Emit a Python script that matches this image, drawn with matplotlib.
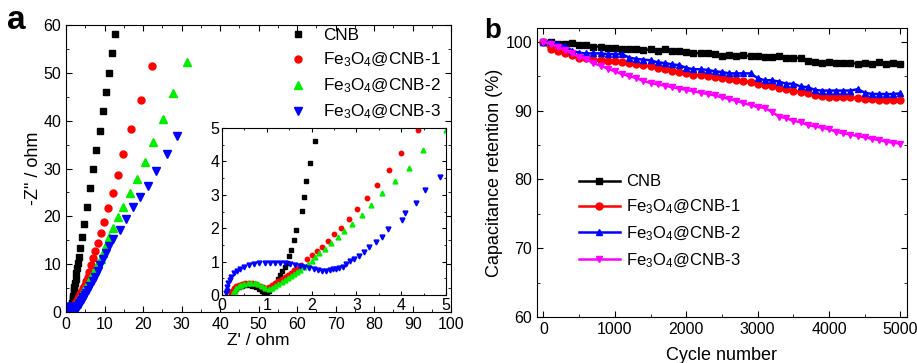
import numpy as np
import matplotlib
matplotlib.use('Agg')
import matplotlib.pyplot as plt
from matplotlib.ticker import MultipleLocator

plt.rcParams['font.family'] = ['Liberation Sans', 'DejaVu Sans']
plt.rcParams['mathtext.fontset'] = 'custom'
plt.rcParams['mathtext.rm'] = 'Liberation Sans'
plt.rcParams['mathtext.it'] = 'Liberation Sans:italic'
plt.rcParams['xtick.direction'] = 'in'
plt.rcParams['ytick.direction'] = 'in'

labels = ['CNB', 'Fe$_3$O$_4$@CNB-1', 'Fe$_3$O$_4$@CNB-2', 'Fe$_3$O$_4$@CNB-3']

# panel a: Nyquist data (Z' , -Z'')
cnb_re = [0.22, 0.26, 0.31, 0.37, 0.44, 0.52, 0.60, 0.68, 0.76, 0.83, 0.89, 0.93, 0.96, 1.00, 1.05,
          1.10, 1.15, 1.20, 1.25, 1.30, 1.35, 1.40, 1.45, 1.49, 1.53, 1.60, 1.66, 1.79, 1.84, 1.88,
          1.97, 2.08, 2.20, 2.35, 2.50, 2.68, 2.85, 3.05, 3.30, 3.60, 4.10, 4.60, 5.40, 6.10, 7.00,
          7.90, 8.70, 9.50, 10.40, 11.10, 11.90, 12.80]
cnb_im = [0.05, 0.13, 0.19, 0.24, 0.27, 0.29, 0.29, 0.27, 0.23, 0.17, 0.11, 0.07, 0.05, 0.08, 0.13,
          0.20, 0.28, 0.37, 0.48, 0.60, 0.73, 0.85, 0.97, 1.17, 1.36, 1.66, 1.94, 2.52, 2.94, 3.42,
          3.96, 4.61, 5.30, 6.10, 7.00, 8.10, 9.20, 10.30, 11.40, 13.40, 15.70, 18.50, 21.90, 25.90, 29.90,
          33.90, 37.90, 42.00, 46.00, 50.00, 54.10, 58.10]

fe1_re = [0.20, 0.23, 0.27, 0.32, 0.38, 0.45, 0.52, 0.60, 0.68, 0.76, 0.84, 0.91, 0.98, 1.05, 1.12,
          1.19, 1.26, 1.33, 1.40, 1.47, 1.54, 1.61, 1.68, 1.76, 1.89, 2.00, 2.12, 2.24, 2.36, 2.50,
          2.65, 2.84, 3.02, 3.23, 3.47, 3.73, 4.00, 4.38, 4.80, 5.20, 5.65, 6.05, 6.50, 7.00, 7.60,
          8.25, 9.00, 9.85, 10.90, 12.10, 13.40, 14.90, 17.00, 19.40, 22.30]
fe1_im = [0.05, 0.13, 0.20, 0.26, 0.31, 0.34, 0.36, 0.36, 0.35, 0.32, 0.28, 0.24, 0.22, 0.24, 0.29,
          0.35, 0.41, 0.47, 0.53, 0.60, 0.67, 0.74, 0.81, 0.90, 1.08, 1.19, 1.31, 1.44, 1.62, 1.82,
          2.02, 2.27, 2.56, 2.89, 3.29, 3.73, 4.26, 4.93, 5.60, 6.40, 7.30, 8.40, 9.80, 11.20, 12.70,
          14.40, 16.50, 18.80, 21.80, 24.80, 28.70, 33.00, 38.30, 44.40, 51.40]

fe2_re = [0.25, 0.28, 0.32, 0.37, 0.43, 0.50, 0.57, 0.65, 0.73, 0.81, 0.89, 0.97, 1.05, 1.12, 1.19,
          1.26, 1.33, 1.40, 1.47, 1.54, 1.61, 1.68, 1.75, 1.83, 1.92, 2.00, 2.08, 2.17, 2.30, 2.44,
          2.58, 2.73, 2.90, 3.12, 3.33, 3.58, 3.86, 4.18, 4.49, 4.99, 5.45, 5.95, 6.50, 7.05, 7.70,
          8.30, 9.00, 9.55, 10.30, 11.20, 12.10, 13.40, 14.90, 16.60, 18.30, 20.40, 22.70, 25.10, 27.90, 31.30]
fe2_im = [0.05, 0.13, 0.20, 0.26, 0.31, 0.34, 0.36, 0.36, 0.35, 0.32, 0.27, 0.21, 0.18, 0.22, 0.27,
          0.32, 0.38, 0.44, 0.50, 0.56, 0.62, 0.68, 0.75, 0.83, 0.93, 1.03, 1.15, 1.26, 1.39, 1.56,
          1.74, 1.93, 2.14, 2.41, 2.69, 3.04, 3.42, 3.81, 4.33, 4.93, 5.60, 6.40, 7.30, 8.20, 9.30,
          10.20, 11.10, 12.30, 14.00, 15.70, 17.50, 19.90, 22.00, 24.80, 27.80, 31.30, 35.50, 40.40, 45.80, 52.30]

fe3_re = [0.10, 0.11, 0.12, 0.14, 0.17, 0.21, 0.26, 0.33, 0.41, 0.50, 0.60, 0.71, 0.83, 0.95, 1.07,
          1.18, 1.29, 1.40, 1.51, 1.62, 1.73, 1.84, 1.95, 2.05, 2.15, 2.24, 2.33, 2.41, 2.48, 2.55,
          2.62, 2.69, 2.77, 2.86, 2.95, 3.06, 3.16, 3.28, 3.43, 3.56, 3.71, 4.01, 4.09, 4.33, 4.52,
          4.87, 5.30, 5.80, 6.30, 6.90, 7.50, 8.20, 8.90, 9.60, 10.40, 11.20, 12.30, 13.90, 15.50, 17.30,
          19.20, 21.30, 23.40, 26.10, 28.80]
fe3_im = [0.05, 0.13, 0.25, 0.35, 0.45, 0.55, 0.65, 0.72, 0.79, 0.85, 0.89, 0.93, 0.95, 0.97, 0.97,
          0.97, 0.96, 0.95, 0.93, 0.90, 0.86, 0.83, 0.80, 0.77, 0.74, 0.73, 0.73, 0.75, 0.77, 0.79,
          0.82, 0.85, 0.93, 1.03, 1.08, 1.18, 1.29, 1.43, 1.58, 1.75, 1.97, 2.25, 2.45, 2.76, 3.14,
          3.52, 4.00, 4.70, 5.50, 6.40, 7.40, 8.60, 9.80, 11.00, 12.30, 13.70, 15.30, 17.20, 19.40, 21.90,
          24.00, 26.40, 29.40, 33.00, 36.90]

# panel b: cycling stability
cycles = list(range(0, 5100, 100))
ret_cnb = [100, 99.9, 99.7, 99.6, 99.8, 99.5, 99.5, 99.3, 99.3, 99.1, 99.1, 99.0, 99.0, 98.9, 98.8,
           98.9, 98.7, 98.9, 98.6, 98.7, 98.5, 98.3, 98.4, 98.3, 98.2, 97.9, 98.0, 97.9, 98.0, 97.9,
           97.9, 97.8, 97.8, 97.9, 97.7, 97.7, 97.6, 97.2, 97.0, 96.9, 97.0, 96.9, 96.9, 96.9, 96.8,
           96.9, 96.8, 97.1, 96.7, 96.9, 96.7]
ret_fe1 = [100, 98.9, 98.6, 98.3, 98.0, 97.7, 97.6, 97.4, 97.3, 97.2, 97.2, 97.1, 96.9, 96.8, 96.6,
           96.4, 96.2, 96.0, 95.8, 95.6, 95.4, 95.2, 95.1, 95.0, 94.9, 94.8, 94.6, 94.5, 94.3, 94.1,
           93.9, 93.7, 93.5, 93.3, 93.1, 92.9, 92.7, 92.5, 92.2, 92.1, 92.0, 91.9, 91.9, 91.9, 91.8,
           91.7, 91.7, 91.6, 91.6, 91.6, 91.5]
ret_fe2 = [100, 100, 99.6, 99.4, 98.7, 98.4, 98.3, 98.3, 98.3, 98.2, 98.2, 98.2, 97.7, 97.5, 97.4,
           97.3, 97.0, 96.9, 96.7, 96.6, 96.2, 96.0, 96.0, 95.9, 95.7, 95.6, 95.4, 95.4, 95.4, 95.4,
           94.7, 94.4, 94.4, 94.2, 93.9, 93.9, 93.5, 93.4, 93.0, 92.9, 92.9, 92.9, 92.9, 92.9, 93.1,
           92.6, 92.4, 92.4, 92.4, 92.4, 92.5]
ret_fe3 = [100, 99.7, 99.2, 98.8, 98.3, 97.8, 97.5, 96.9, 96.5, 96.1, 95.7, 95.3, 95.0, 94.7, 94.3,
           94.0, 93.8, 93.6, 93.4, 93.2, 93.0, 92.8, 92.6, 92.4, 92.2, 91.9, 91.7, 91.4, 91.1, 90.8,
           90.5, 90.4, 89.8, 89.1, 88.9, 88.5, 88.3, 87.9, 87.7, 87.5, 87.3, 86.9, 86.7, 86.5, 86.3,
           86.1, 85.9, 85.7, 85.5, 85.3, 85.2]

colors = ['black', '#ff0000', '#00ee00', '#0000ff']
colors_b = ['black', '#ff0000', '#0000ff', '#ff00ff']
markers = ['s', 'o', '^', 'v']
ms_main = [4.5, 5, 5.5, 5.5]
ms_ins = [2.8, 3.2, 3.5, 3.5]

nyq = [(cnb_re, cnb_im), (fe1_re, fe1_im), (fe2_re, fe2_im), (fe3_re, fe3_im)]
retention = [ret_cnb, ret_fe1, ret_fe2, ret_fe3]

fig = plt.figure(figsize=(9.17, 3.63), dpi=100)

# ---- panel a
ax = fig.add_axes([0.072, 0.1405, 0.42, 0.7905])
for i in range(4):
    ax.plot(nyq[i][0], nyq[i][1], linestyle='none', marker=markers[i], ms=ms_main[i],
            color=colors[i], mec=colors[i], label=labels[i])
ax.set_xlim(0, 100)
ax.set_ylim(0, 60)
ax.xaxis.set_major_locator(MultipleLocator(10))
ax.xaxis.set_minor_locator(MultipleLocator(5))
ax.yaxis.set_major_locator(MultipleLocator(10))
ax.yaxis.set_minor_locator(MultipleLocator(5))
ax.tick_params(which='both', top=True, right=True, labelsize=11.5)
ax.tick_params(which='major', length=4)
ax.tick_params(which='minor', length=2)
ax.set_xlabel("Z' / ohm", fontsize=12.5, labelpad=1)
ax.set_ylabel('-Z" / ohm', fontsize=13, labelpad=1)
ax.legend(loc='upper right', bbox_to_anchor=(1.0, 1.025), frameon=False, fontsize=12.3,
          handletextpad=0.85, labelspacing=0.45, borderaxespad=0.2, handlelength=1.2)

ins = fig.add_axes([0.2421, 0.1873, 0.2443, 0.4601])
for i in range(4):
    ins.plot(nyq[i][0], nyq[i][1], linestyle='none', marker=markers[i], ms=ms_ins[i],
             color=colors[i], mec=colors[i])
ins.set_xlim(0, 5)
ins.set_ylim(0, 5)
ins.xaxis.set_major_locator(MultipleLocator(1))
ins.xaxis.set_minor_locator(MultipleLocator(0.5))
ins.yaxis.set_major_locator(MultipleLocator(1))
ins.yaxis.set_minor_locator(MultipleLocator(0.5))
ins.tick_params(which='both', top=True, right=True, labelsize=11.5, pad=2)
ins.tick_params(which='major', length=3)
ins.tick_params(which='minor', length=1.5)

fig.text(0.008, 0.92, 'a', fontsize=24, fontweight='bold')

# ---- panel b
bx = fig.add_axes([0.5856, 0.1267, 0.4034, 0.7963])
for i in range(4):
    bx.plot(cycles, retention[i], marker=markers[i], ms=5, lw=1.8,
            color=colors_b[i], mec=colors_b[i], label=labels[i])
bx.set_xlim(-90, 5090)
bx.set_ylim(60, 102)
bx.xaxis.set_major_locator(MultipleLocator(1000))
bx.xaxis.set_minor_locator(MultipleLocator(500))
bx.yaxis.set_major_locator(MultipleLocator(10))
bx.yaxis.set_minor_locator(MultipleLocator(5))
bx.tick_params(which='both', top=True, right=True, labelsize=11.5)
bx.tick_params(which='major', length=4)
bx.tick_params(which='minor', length=2)
bx.set_xlabel('Cycle number', fontsize=13, labelpad=7)
bx.set_ylabel('Capacitance retention (%)', fontsize=13, labelpad=2)
bx.legend(loc='upper left', bbox_to_anchor=(0.072, 0.545), frameon=False, fontsize=12,
          handlelength=2.5, handletextpad=0.35, labelspacing=0.5)

fig.text(0.528, 0.895, 'b', fontsize=20, fontweight='bold')

fig.savefig('out.png', dpi=100)
